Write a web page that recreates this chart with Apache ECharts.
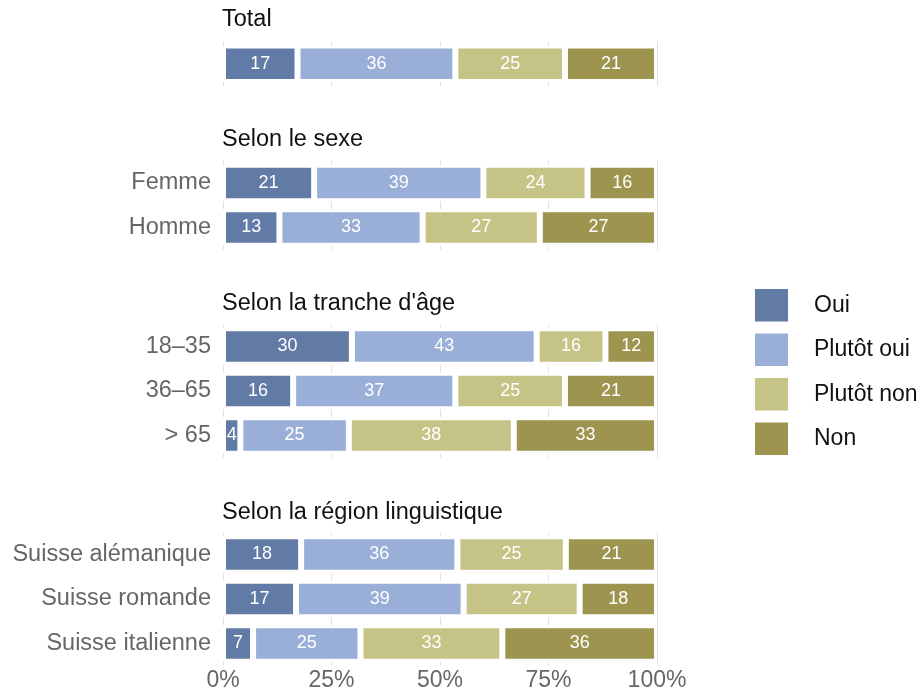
<!DOCTYPE html>
<html>
<head>
<meta charset="utf-8">
<script src="https://cdn.jsdelivr.net/npm/echarts@6/dist/echarts.min.js"></script>
<style>html,body{margin:0;padding:0;background:#fff}#c{width:920px;height:693px}</style>
</head>
<body>
<div id="c"></div>
<script>
// ---- data ----
const seriesNames = ["Oui", "Plutôt oui", "Plutôt non", "Non"];
const groupTitles = ["Total", "Selon le sexe", "Selon la tranche d'âge", "Selon la région linguistique"];
const catTotal = [""];
const catSexe = ["Femme", "Homme"];
const catAge = ["18–35", "36–65", "> 65"];
const catRegion = ["Suisse alémanique", "Suisse romande", "Suisse italienne"];
// values per row: [Oui, Plutôt oui, Plutôt non, Non]
const valTotal = [[17, 36, 25, 21]];
const valSexe = [[21, 39, 24, 16], [13, 33, 27, 27]];
const valAge = [[30, 43, 16, 12], [16, 37, 25, 21], [4, 25, 38, 33]];
const valRegion = [[18, 36, 25, 21], [17, 39, 27, 18], [7, 25, 33, 36]];
const xTicks = [0, 25, 50, 75, 100];

const colors = ["#627aa6", "#99afd7", "#c6c386", "#9c944f"];
const font = "'Liberation Sans', Arial, Helvetica, sans-serif";

const groups = [
  {cats: catTotal, vals: valTotal, top: 41.5, titleTop: 8},
  {cats: catSexe, vals: valSexe, top: 160.75, titleTop: 127.4},
  {cats: catAge, vals: valAge, top: 324.25, titleTop: 291.7},
  {cats: catRegion, vals: valRegion, top: 532.25, titleTop: 500.7}
];
const pitch = 44.5;
const gridLeft = 223, gridRight = 263;

const grid = [], xAxis = [], yAxis = [], series = [], title = [];
groups.forEach((g, gi) => {
  grid.push({left: gridLeft, right: gridRight, top: g.top, height: pitch * g.cats.length});
  title.push({text: groupTitles[gi], left: gridLeft - 1, top: g.titleTop, padding: 0,
    textStyle: {fontFamily: font, fontSize: 23.5, fontWeight: 'normal', color: '#111'}});
  const last = gi === groups.length - 1;
  xAxis.push({type: 'value', gridIndex: gi, min: xTicks[0], max: xTicks[xTicks.length - 1], interval: 25,
    axisLine: {show: false}, axisTick: {show: false},
    splitLine: {show: true, lineStyle: {color: '#e2e2e2', width: 1}},
    axisLabel: {show: last, formatter: '{value}%', margin: 3, fontFamily: font, fontSize: 23, color: '#666'}});
  yAxis.push({type: 'category', gridIndex: gi, data: g.cats, inverse: true,
    axisLine: {show: false}, axisTick: {show: false}, splitLine: {show: false},
    axisLabel: {margin: 12, fontFamily: font, fontSize: 23.5, color: '#666'}});
  seriesNames.forEach((name, si) => {
    series.push({
      name: name, type: 'bar', stack: 'g' + gi, xAxisIndex: gi, yAxisIndex: gi,
      barWidth: 36.5,
      itemStyle: {color: colors[si], borderColor: '#fff', borderWidth: 3},
      label: {show: true, position: 'inside', color: '#fff', fontFamily: font, fontSize: 18,
        formatter: p => String(g.vals[p.dataIndex][si])},
      data: g.vals.map(row => {
        const sum = row.reduce((a, b) => a + b, 0);
        return row[si] * 100 / sum;
      })
    });
  });
});

const chart = echarts.init(document.getElementById('c'), null, {renderer: 'canvas'});
chart.setOption({
  animation: false,
  backgroundColor: '#fff',
  title: title,
  grid: grid,
  xAxis: xAxis,
  yAxis: yAxis,
  legend: {
    data: seriesNames, orient: 'vertical', left: 753, top: 287, padding: 0,
    itemWidth: 35, itemHeight: 34.5, itemGap: 8, icon: 'rect',
    textStyle: {fontFamily: font, fontSize: 23, color: '#111', padding: [0, 0, 0, 20]}
  },
  series: series
});
</script>
</body>
</html>
